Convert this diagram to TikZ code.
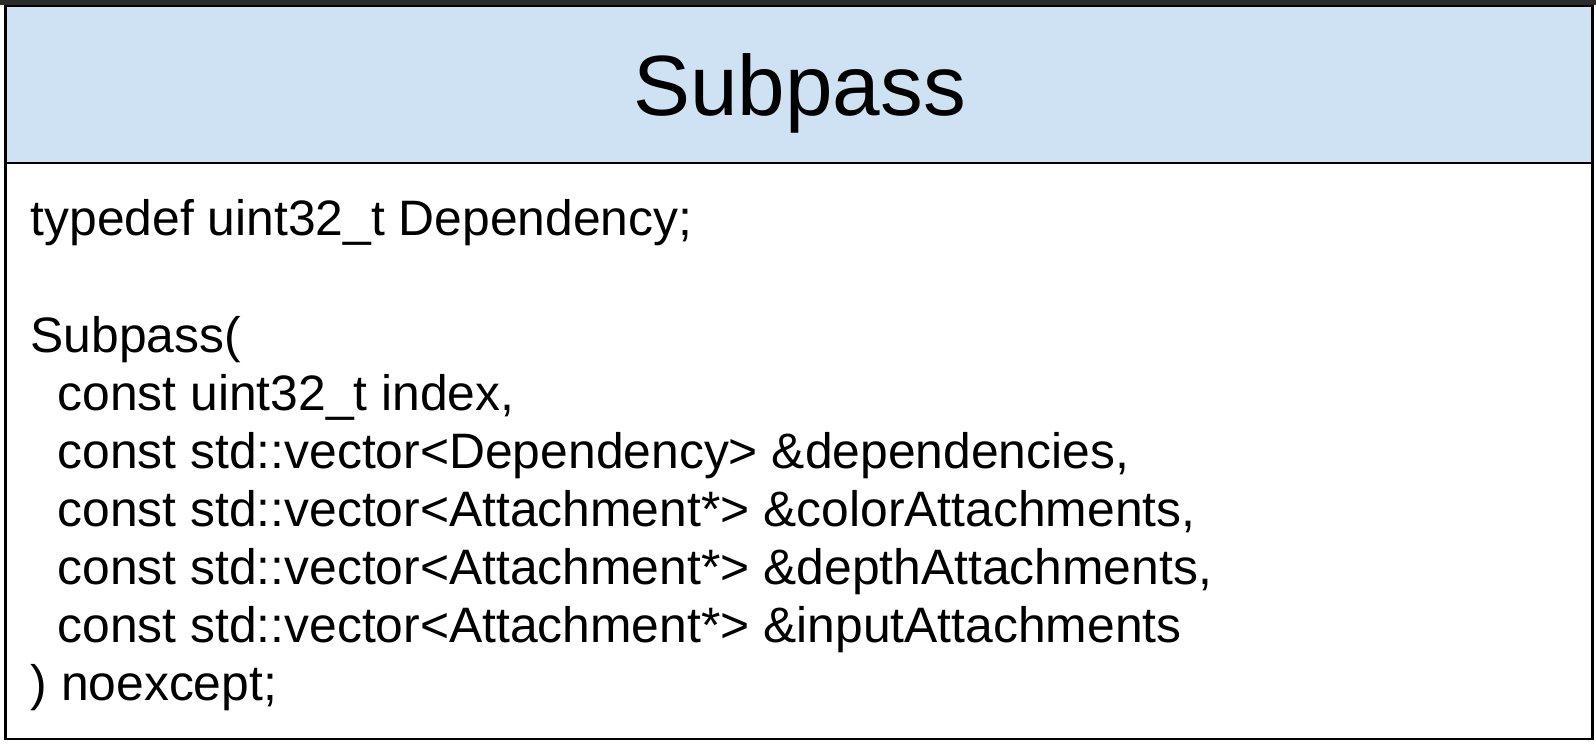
\documentclass[tikz,border=0pt]{standalone}
\usepackage{fontspec}
\setmainfont{Liberation Sans}
\definecolor{hdrblue}{HTML}{CFE2F3}
\definecolor{topdark}{HTML}{2B2B2B}
\begin{document}
\begin{tikzpicture}[x=1pt,y=-1pt,
  codeline/.style={anchor=base west,inner sep=0pt,font=\fontsize{49.8}{58}\selectfont},
  titletext/.style={anchor=base,inner sep=0pt,font=\fontsize{85.5}{100}\selectfont},
  frame/.style={draw=black,line width=2.4pt}]
\useasboundingbox (0,0) rectangle (1596,746);
\fill[white] (0,0) rectangle (1596,746);
\fill[topdark] (0,0) rectangle (1596,5.5);
\fill[hdrblue] (5.3,6.3) rectangle (1592.3,163);
\draw[frame] (5.3,6.3) rectangle (1592.3,739);
\draw[frame] (5.3,163) -- (1592.3,163);
\node[titletext] (title) at (799.5,116) {Subpass};
\node[codeline] (l1) at (30.5,236) {typedef uint32\_t Dependency;};
\node[codeline] (l3) at (30.5,352) {Subpass(};
\node[codeline] (l4) at (57.5,410) {const uint32\_t index,};
\node[codeline] (l5) at (57.5,468) {const std::vector<Dependency> \&dependencies,};
\node[codeline] (l6) at (57.5,526) {const std::vector<Attachment*> \&colorAttachments,};
\node[codeline] (l7) at (57.5,584) {const std::vector<Attachment*> \&depthAttachments,};
\node[codeline] (l8) at (57.5,642) {const std::vector<Attachment*> \&inputAttachments};
\node[codeline] (l9) at (30.5,700) {) noexcept;};
\end{tikzpicture}
\end{document}
